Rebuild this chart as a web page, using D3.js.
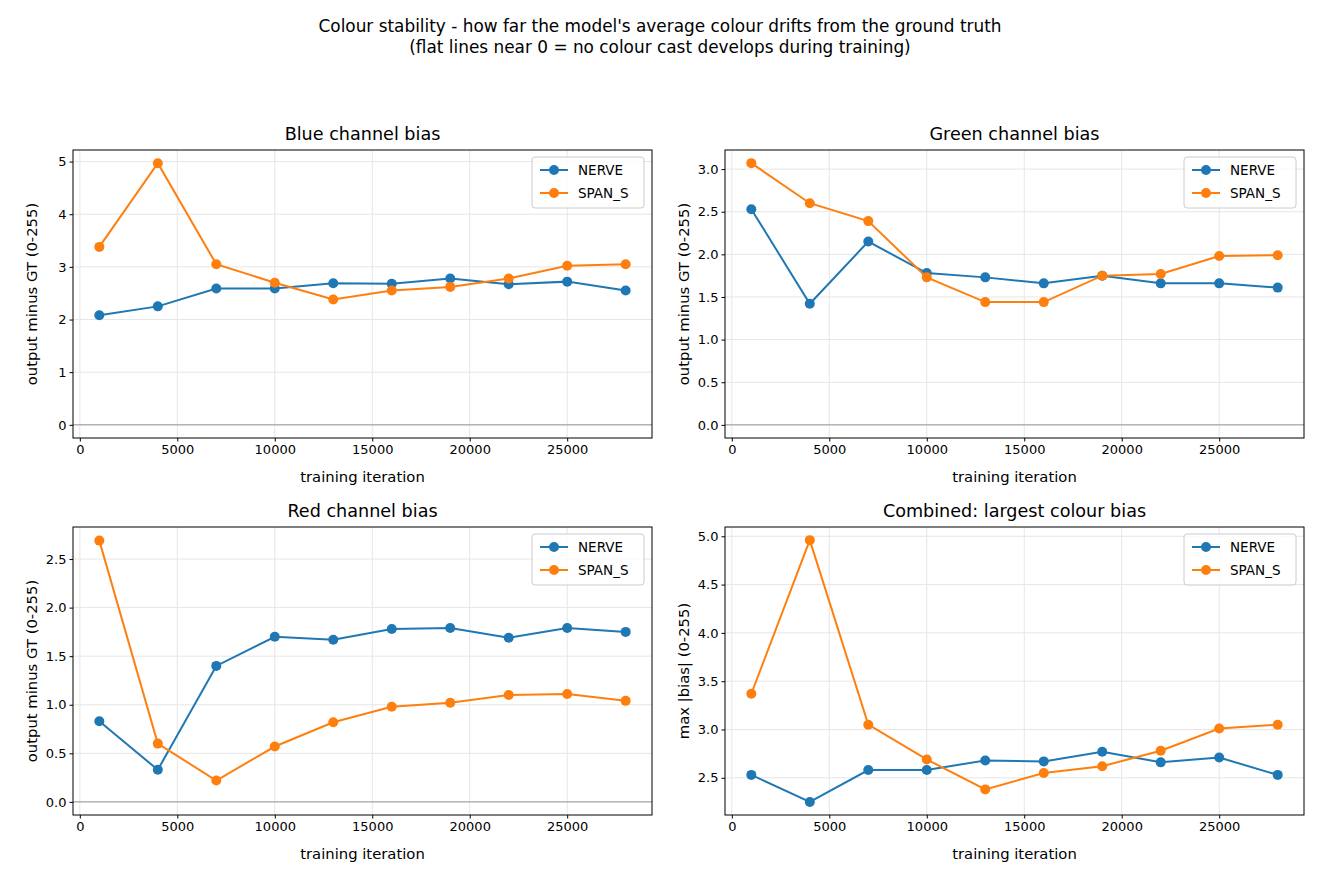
<!DOCTYPE html><html><head><meta charset="utf-8"><script src="https://cdn.jsdelivr.net/npm/d3@7"></script>
<style>body{margin:0;background:#fff}text{font-family:"DejaVu Sans",sans-serif}</style></head><body><svg id="c" width="1320" height="880"></svg><script>
const iters=[1000,4000,7000,10000,13000,16000,19000,22000,25000,28000];
const blueNERVE=[2.08,2.25,2.59,2.59,2.69,2.68,2.78,2.67,2.72,2.55];
const blueSPAN=[3.38,4.97,3.05,2.70,2.38,2.55,2.62,2.78,3.02,3.05];
const greenNERVE=[2.53,1.42,2.15,1.78,1.73,1.66,1.75,1.66,1.66,1.61];
const greenSPAN=[3.07,2.60,2.39,1.73,1.44,1.44,1.75,1.77,1.98,1.99];
const redNERVE=[0.83,0.33,1.40,1.70,1.67,1.78,1.79,1.69,1.79,1.75];
const redSPAN=[2.69,0.60,0.22,0.57,0.82,0.98,1.02,1.10,1.11,1.04];
const maxNERVE=[2.53,2.25,2.58,2.58,2.68,2.67,2.77,2.66,2.71,2.53];
const maxSPAN=[3.37,4.96,3.05,2.69,2.38,2.55,2.62,2.78,3.01,3.05];
const xTicks=[0,5000,10000,15000,20000,25000];
const panels=[
 {title:"Blue channel bias",n:blueNERVE,s:blueSPAN,yd:[-0.25,5.22],ticks:[0,1,2,3,4,5],fmt:d3.format("d"),ylab:"output minus GT (0-255)",zero:true,x:73,y:150},
 {title:"Green channel bias",n:greenNERVE,s:greenSPAN,yd:[-0.154,3.224],ticks:[0,0.5,1,1.5,2,2.5,3],fmt:d3.format(".1f"),ylab:"output minus GT (0-255)",zero:true,x:725,y:150},
 {title:"Red channel bias",n:redNERVE,s:redSPAN,yd:[-0.135,2.83],ticks:[0,0.5,1,1.5,2,2.5],fmt:d3.format(".1f"),ylab:"output minus GT (0-255)",zero:true,x:73,y:527},
 {title:"Combined: largest colour bias",n:maxNERVE,s:maxSPAN,yd:[2.115,5.096],ticks:[2.5,3,3.5,4,4.5,5],fmt:d3.format(".1f"),ylab:"max |bias| (0-255)",zero:false,x:725,y:527}];
const W=579,H=288;
const svg=d3.select("#c");
svg.append("text").attr("x",660).attr("y",32).attr("text-anchor","middle").attr("font-size",16.9).text("Colour stability - how far the model's average colour drifts from the ground truth");
svg.append("text").attr("x",660).attr("y",53).attr("text-anchor","middle").attr("font-size",16.9).text("(flat lines near 0 = no colour cast develops during training)");
const cols=["#1f77b4","#ff7f0e"];
panels.forEach(p=>{
 const g=svg.append("g").attr("transform",`translate(${p.x},${p.y})`);
 const x=d3.scaleLinear().domain([-350,29350]).range([0,W]);
 const y=d3.scaleLinear().domain(p.yd).range([H,0]);
 g.append("g").selectAll("line").data(xTicks).join("line").attr("x1",x).attr("x2",x).attr("y1",0).attr("y2",H).attr("stroke","#e6e6e6");
 g.append("g").selectAll("line").data(p.ticks).join("line").attr("y1",y).attr("y2",y).attr("x1",0).attr("x2",W).attr("stroke","#e6e6e6");
 if(p.zero) g.append("line").attr("x1",0).attr("x2",W).attr("y1",y(0)).attr("y2",y(0)).attr("stroke","#808080").attr("stroke-width",0.8);
 const xa=g.append("g").attr("transform",`translate(0,${H})`).call(d3.axisBottom(x).tickValues(xTicks).tickFormat(d3.format("d")).tickSizeOuter(0).tickSize(3.5));
 const ya=g.append("g").call(d3.axisLeft(y).tickValues(p.ticks).tickFormat(p.fmt).tickSizeOuter(0).tickSize(3.5));
 [xa,ya].forEach(a=>{a.select(".domain").remove();a.selectAll("text").attr("font-size",13).attr("fill","#000").style("font-family","DejaVu Sans");});
 g.append("rect").attr("width",W).attr("height",H).attr("fill","none").attr("stroke","#000").attr("stroke-width",1);
 g.append("text").attr("x",W/2).attr("y",-10).attr("text-anchor","middle").attr("font-size",17.6).text(p.title);
 g.append("text").attr("x",W/2).attr("y",H+44).attr("text-anchor","middle").attr("font-size",14.8).text("training iteration");
 g.append("text").attr("transform",`translate(-36,${H/2}) rotate(-90)`).attr("text-anchor","middle").attr("font-size",14.8).text(p.ylab);
 [p.n,p.s].forEach((arr,i)=>{
  g.append("path").datum(arr).attr("fill","none").attr("stroke",cols[i]).attr("stroke-width",2)
   .attr("d",d3.line().x((d,j)=>x(iters[j])).y(d=>y(d)));
  g.append("g").selectAll("circle").data(arr).join("circle").attr("cx",(d,j)=>x(iters[j])).attr("cy",d=>y(d)).attr("r",5).attr("fill",cols[i]);
 });
 const lg=g.append("g").attr("transform",`translate(${W-120},7)`);
 lg.append("rect").attr("width",112).attr("height",51).attr("rx",3).attr("fill","#fff").attr("fill-opacity",0.8).attr("stroke","#ccc");
 ["NERVE","SPAN_S"].forEach((t,i)=>{
  const yy=13+i*23;
  lg.append("line").attr("x1",8).attr("x2",36).attr("y1",yy).attr("y2",yy).attr("stroke",cols[i]).attr("stroke-width",2);
  lg.append("circle").attr("cx",22).attr("cy",yy).attr("r",5).attr("fill",cols[i]);
  lg.append("text").attr("x",46).attr("y",yy+4.5).attr("font-size",13.5).text(t);
 });
});
</script></body></html>
